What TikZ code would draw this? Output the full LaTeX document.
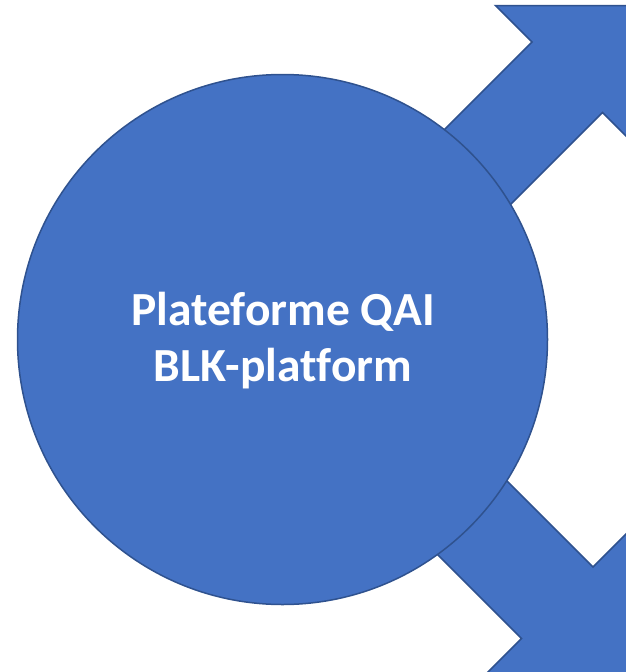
\documentclass[tikz,border=0pt]{standalone}
\usepackage{fontspec}
\setmainfont[Ligatures=NoCommon]{Carlito}
\definecolor{officeblue}{HTML}{4472C4}
\definecolor{officeedge}{HTML}{2F528F}
\begin{document}
\begin{tikzpicture}[x=1pt,y=-1pt,
    shapefill/.style={fill=officeblue, draw=officeedge, line width=1.5pt, line join=miter},
    hub/.style={shapefill, circle, minimum size=530pt, inner sep=0pt},
    hublabel/.style={text=white, font=\fontsize{47.5}{56}\selectfont\bfseries, align=center}]
  \useasboundingbox (0,0) rectangle (626,672);
  \clip (0,0) rectangle (626,672);

  % arrow leaving the hub towards the upper right
  \draw[shapefill] (387,187) -- (532,42) -- (495.5,5.5) -- (639,5.5)
    -- (639,149) -- (602.5,112.5) -- (457.5,257.5) -- cycle;

  % arrow leaving the hub towards the lower right
  \draw[shapefill] (363,337) -- (593,567) -- (629.5,530.5) -- (629.5,675)
    -- (485,675) -- (521.5,638.5) -- (291.5,408.5) -- cycle;

  % central platform disc
  \node[hub] (hub) at (282.5,339.5) {};
  \node[hublabel] (label) at (283,341) {Plateforme QAI\\BLK-platform};
\end{tikzpicture}
\end{document}
